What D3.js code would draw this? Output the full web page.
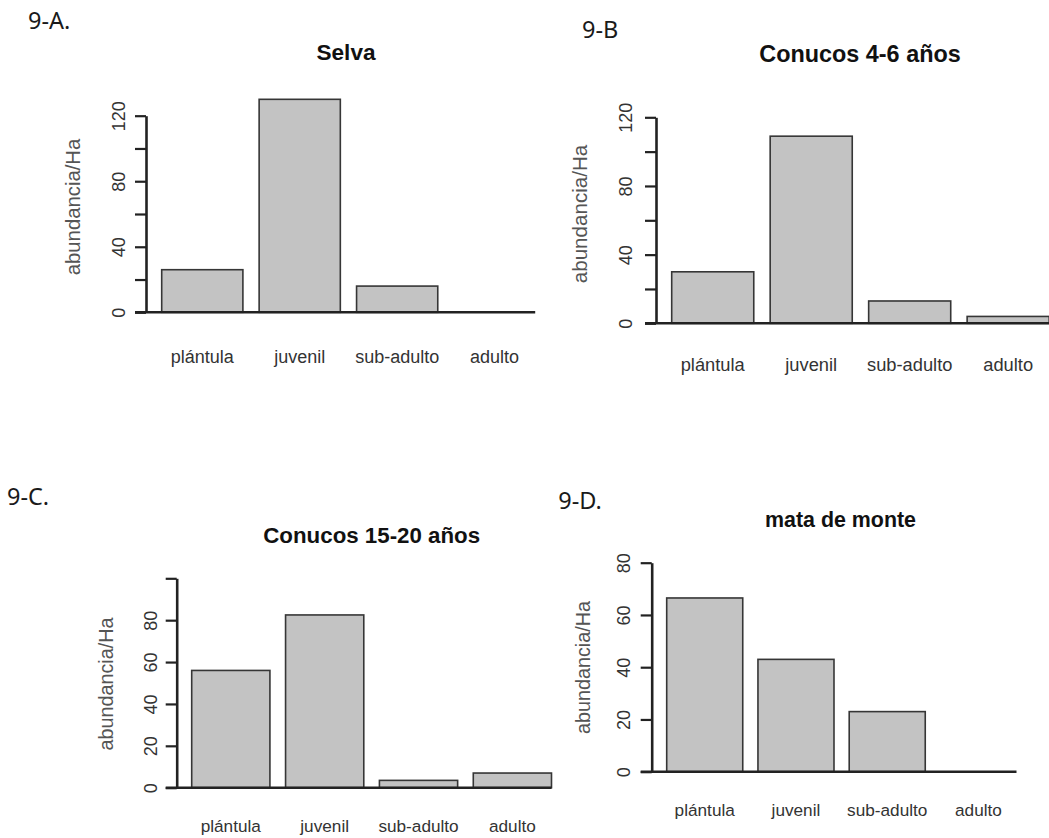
<!DOCTYPE html>
<html><head><meta charset="utf-8">
<script src="https://cdn.jsdelivr.net/npm/d3@7"></script>
<style>body{margin:0;background:#fff}</style>
</head><body>
<svg id="c" width="1049" height="838"></svg>
<script>
// ---- data ----
const categories = ["plántula", "juvenil", "sub-adulto", "adulto"];
const selvaValues = [26, 130, 16, 0];
const conucos46Values = [30, 109, 13, 4];
const conucos1520Values = [56, 82.5, 3.5, 7];
const mataValues = [66.5, 43, 23, 0];
const panelTags = ["9-A.", "9-B", "9-C.", "9-D."];
const panelTitles = ["Selva", "Conucos 4-6 años", "Conucos 15-20 años", "mata de monte"];
const yLabel = "abundancia/Ha";
const ticksA = [0, 20, 40, 60, 80, 100, 120], tickLabelsA = [0, 40, 80, 120];
const ticksB = [0, 20, 40, 60, 80, 100, 120], tickLabelsB = [0, 40, 80, 120];
const ticksC = [0, 20, 40, 60, 80, 100], tickLabelsC = [0, 20, 40, 60, 80];
const ticksD = [0, 20, 40, 60, 80], tickLabelsD = [0, 20, 40, 60, 80];

// ---- layout ----
const panels = [
  {values: selvaValues, tag: panelTags[0], title: panelTitles[0], ticks: ticksA, labels: tickLabelsA,
   tagX: 28, tagY: 29, titleX: 346, titleY: 60, titleSize: 22.6,
   axisX: 146, y0: 312.3, yTop: 115.7, yMax: 120, tickGap: 21,
   ylX: 80, ylY: 207, ylSize: 20.3, xlY: 362.5, xlSize: 18, x0: 161.7, x1: 535.2},
  {values: conucos46Values, tag: panelTags[1], title: panelTitles[1], ticks: ticksB, labels: tickLabelsB,
   tagX: 582, tagY: 38, titleX: 860, titleY: 61.5, titleSize: 23.4,
   axisX: 656, y0: 323.3, yTop: 117.3, yMax: 120, tickGap: 24,
   ylX: 586.7, ylY: 214, ylSize: 20.6, xlY: 371, xlSize: 18.3, x0: 671.7, x1: 1049.2},
  {values: conucos1520Values, tag: panelTags[2], title: panelTitles[2], ticks: ticksC, labels: tickLabelsC,
   tagX: 7, tagY: 505, titleX: 371.7, titleY: 543, titleSize: 22.3,
   axisX: 176.7, y0: 787.7, yTop: 578.3, yMax: 100, tickGap: 20,
   ylX: 113.3, ylY: 684, ylSize: 19.8, xlY: 831.5, xlSize: 17.2, x0: 191.7, x1: 551.5},
  {values: mataValues, tag: panelTags[3], title: panelTitles[3], ticks: ticksD, labels: tickLabelsD,
   tagX: 558.3, tagY: 509, titleX: 840.5, titleY: 527, titleSize: 21.4,
   axisX: 651.7, y0: 771.7, yTop: 562.7, yMax: 80, tickGap: 21.7,
   ylX: 590, ylY: 667.5, ylSize: 19.8, xlY: 816, xlSize: 17.2, x0: 666.7, x1: 1016.5}
];

const svg = d3.select("#c");
const FONT = "'Liberation Sans', Arial, sans-serif";

function drawPanel(p) {
  const g = svg.append("g");
  const y = d3.scaleLinear().domain([0, p.yMax]).range([p.y0, p.yTop]);
  const x = d3.scaleBand().domain(categories).range([p.x0, p.x1]).paddingInner(1/6).paddingOuter(0);

  // tag
  g.append("text").attr("x", p.tagX).attr("y", p.tagY).text(p.tag)
    .attr("font-family", "'Noto Sans', 'Open Sans', sans-serif").attr("font-size", 23.5).attr("fill", "#1a1a1a");
  // title
  g.append("text").attr("x", p.titleX).attr("y", p.titleY).text(p.title)
    .attr("text-anchor", "middle").attr("font-family", FONT).attr("font-weight", "bold")
    .attr("font-size", p.titleSize).attr("fill", "#111");

  // bars
  g.selectAll("rect.bar").data(p.values).join("rect").attr("class", "bar")
    .attr("x", (d, i) => x(categories[i])).attr("width", x.bandwidth())
    .attr("y", d => y(d)).attr("height", d => p.y0 - y(d))
    .attr("fill", "#c3c3c3").attr("stroke", "#363636").attr("stroke-width", 1.6);

  // baseline
  g.append("line").attr("x1", p.axisX - 11).attr("x2", p.x1).attr("y1", y(0)).attr("y2", y(0))
    .attr("stroke", "#222").attr("stroke-width", 2.6);

  // y axis
  const ax = d3.axisLeft(y).tickValues(p.ticks).tickSize(11).tickSizeOuter(0)
    .tickFormat(d => p.labels.includes(d) ? String(d) : "");
  const ag = g.append("g").attr("transform", `translate(${p.axisX},0)`).call(ax);
  ag.attr("font-family", FONT).attr("font-size", 18);
  ag.select(".domain").attr("stroke", "#222").attr("stroke-width", 2.6);
  ag.selectAll(".tick line").attr("stroke", "#222").attr("stroke-width", 2.2);
  ag.selectAll(".tick text").attr("x", null).attr("dy", null)
    .attr("transform", `translate(${-p.tickGap},0) rotate(-90)`)
    .attr("text-anchor", "middle").attr("fill", "#333");

  // y label
  g.append("text").attr("transform", `translate(${p.ylX},${p.ylY}) rotate(-90)`)
    .attr("text-anchor", "middle").attr("font-family", FONT).attr("font-size", p.ylSize)
    .attr("fill", "#555").text(yLabel);

  // x labels
  g.selectAll("text.xl").data(categories).join("text").attr("class", "xl")
    .attr("x", d => x(d) + x.bandwidth() / 2).attr("y", p.xlY)
    .attr("text-anchor", "middle").attr("font-family", FONT).attr("font-size", p.xlSize)
    .attr("fill", "#333").text(d => d);
}

panels.forEach(drawPanel);
</script>
</body></html>
